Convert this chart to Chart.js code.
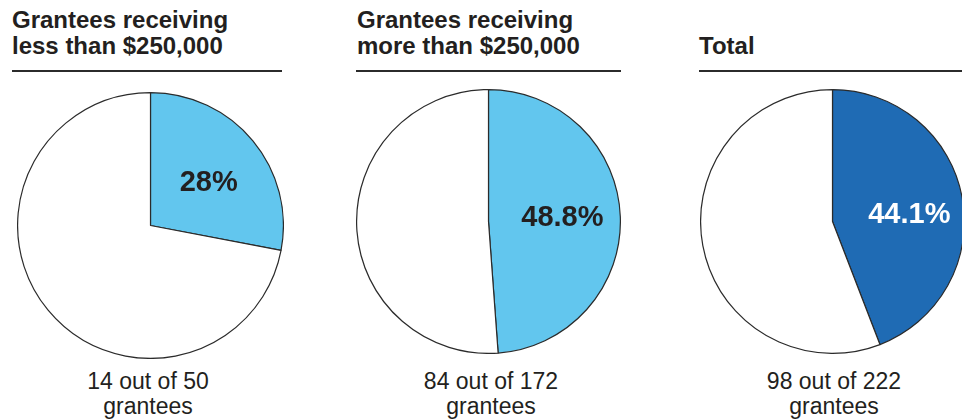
<!DOCTYPE html>
<html>
<head>
<meta charset="utf-8">
<script src="https://cdn.jsdelivr.net/npm/chart.js@4.4.1/dist/chart.umd.min.js"></script>
<style>
  html, body { margin: 0; padding: 0; background: #fff; }
  body { width: 962px; height: 419px; position: relative; overflow: hidden;
         font-family: "Liberation Sans", Arial, Helvetica, sans-serif; color: #231f20; }
  .title { position: absolute; top: 7px; font-weight: bold; font-size: 24px; line-height: 26px; white-space: nowrap; }
  .rule { position: absolute; top: 70px; height: 2px; background: #2b2b2b; }
  .pie { position: absolute; }
  .caption { position: absolute; top: 369px; width: 240px; text-align: center; font-size: 23px; line-height: 25px; }
</style>
</head>
<body>

<script>
// data
const panelTitles = [
    ["Grantees receiving", "less than $250,000"],
    ["Grantees receiving", "more than $250,000"],
    ["Total"]
];
const receiving = [14, 84, 98];
const totals = [50, 172, 222];
const percentLabels = ["28%", "48.8%", "44.1%"];

// layout / style per panel
const panels = [
    { titleX: 12,  ruleX: 12,  ruleW: 270, pieX: 17,  pieY: 92, size: 267, cap: 148, color: "#62c6ee", text: "#231f20", shift: [7, 0] },
    { titleX: 357, ruleX: 356, ruleW: 265, pieX: 356, pieY: 89, size: 265, cap: 491, color: "#62c6ee", text: "#231f20", shift: [8, -1] },
    { titleX: 699, ruleX: 699, ruleW: 263, pieX: 700, pieY: 89, size: 265, cap: 834, color: "#1f6bb4", text: "#ffffff", shift: [12, 6] },
];

const pctLabel = {
    id: "pctLabel",
    afterDatasetsDraw(chart, args, opts) {
        const arc = chart.getDatasetMeta(0).data[0];
        const p = arc.getCenterPoint();
        const c = chart.ctx;
        c.save();
        c.font = "bold 29px 'Liberation Sans', Arial, sans-serif";
        c.fillStyle = opts.color;
        c.textAlign = "center";
        c.textBaseline = "middle";
        c.fillText(opts.text, p.x + opts.shift[0], p.y + opts.shift[1]);
        c.restore();
    }
};

panels.forEach((p, i) => {
    const t = document.createElement("div");
    t.className = "title";
    t.style.left = p.titleX + "px";
    t.innerHTML = panelTitles[i].join("<br>");
    if (panelTitles[i].length === 1) t.style.top = (7 + 26) + "px";
    document.body.appendChild(t);

    const r = document.createElement("div");
    r.className = "rule";
    r.style.left = p.ruleX + "px";
    r.style.width = p.ruleW + "px";
    document.body.appendChild(r);

    const wrap = document.createElement("div");
    wrap.className = "pie";
    wrap.style.left = p.pieX + "px";
    wrap.style.top = p.pieY + "px";
    wrap.style.width = p.size + "px";
    wrap.style.height = p.size + "px";
    const cv = document.createElement("canvas");
    wrap.appendChild(cv);
    document.body.appendChild(wrap);

    const cap = document.createElement("div");
    cap.className = "caption";
    cap.style.left = (p.cap - 120) + "px";
    cap.innerHTML = receiving[i] + " out of " + totals[i] + "<br>grantees";
    document.body.appendChild(cap);

    new Chart(cv.getContext("2d"), {
        type: "pie",
        data: {
            labels: ["Receiving", "Not receiving"],
            datasets: [{
                data: [receiving[i], totals[i] - receiving[i]],
                backgroundColor: [p.color, "#ffffff"],
                borderColor: "#2b2b2b",
                borderWidth: 1.2,
            }]
        },
        options: {
            responsive: true,
            maintainAspectRatio: false,
            animation: false,
            layout: { padding: 0 },
            plugins: {
                legend: { display: false },
                tooltip: { enabled: false },
                pctLabel: { text: percentLabels[i], color: p.text, shift: p.shift }
            }
        },
        plugins: [pctLabel]
    });
});
</script>
</body>
</html>
